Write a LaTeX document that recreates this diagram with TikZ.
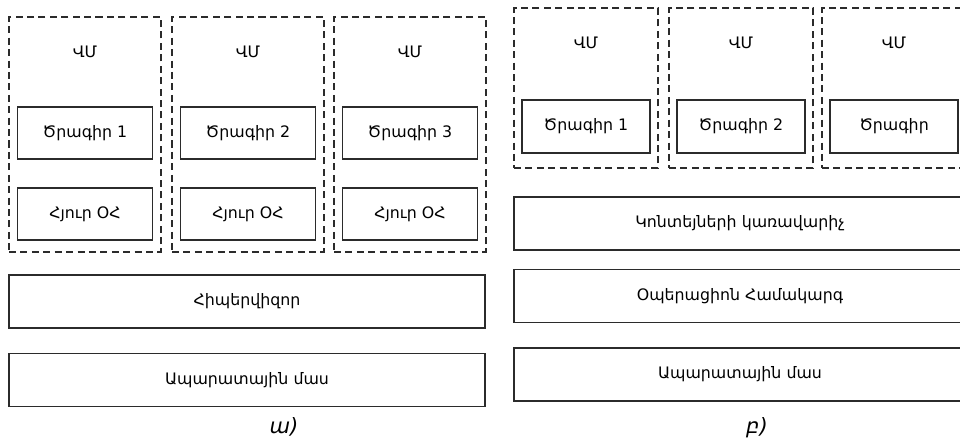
\documentclass[tikz,border=0pt]{standalone}
\usepackage{fontspec}
\setmainfont{DejaVu Sans}
\usetikzlibrary{positioning}
\definecolor{ln-dark}{HTML}{2B2B2B}
\tikzset{
  vmbox/.style={draw=ln-dark, line width=1pt, dash pattern=on 4pt off 2.5pt, inner sep=0pt},
  appbox/.style={draw=ln-dark, line width=1pt, inner sep=0pt, font=\small},
  layerbox/.style={draw=ln-dark, line width=1pt, inner sep=0pt, font=\small},
  captext/.style={font=\large\itshape}
}

\begin{document}
\begin{tikzpicture}[x=0.02cm,y=-0.02cm]
\clip (0,0) rectangle (960,445);
% ա) hypervisor stack
\foreach \i/\cx/\txt in {1/85/Ծրագիր 1, 2/248/Ծրագիր 2, 3/410/Ծրագիր 3} {
  \node[vmbox, minimum width=3.04cm, minimum height=4.7cm] (vmA\i) at (\cx,134.5) {};
  \node[font=\small] (vmlabA\i) at (\cx,52) {ՎՄ};
  \node[appbox, minimum width=2.7cm, minimum height=1.04cm] (progA\i) at (\cx,133) {\txt};
  \node[appbox, minimum width=2.7cm, minimum height=1.04cm] (osA\i) at (\cx,214) {Հյուր ՕՀ};
}
\node[layerbox, minimum width=9.52cm, minimum height=1.06cm] (hyper) at (247,301.5) {Հիպերվիզոր};
\node[layerbox, minimum width=9.52cm, minimum height=1.06cm] (hwA) at (247,380) {Ապարատային մաս};
\node[captext] (capA) at (284,427) {ա)};
% բ) container stack
\foreach \i/\cx/\txt in {1/586/Ծրագիր 1, 2/741/Ծրագիր 2, 3/894/Ծրագիր} {
  \node[vmbox, minimum width=2.88cm, minimum height=3.2cm] (vmB\i) at (\cx,88) {};
  \node[font=\small] (vmlabB\i) at (\cx,43) {ՎՄ};
  \node[appbox, minimum width=2.56cm, minimum height=1.06cm] (progB\i) at (\cx,126.5) {\txt};
}
\node[layerbox, minimum width=9.04cm, minimum height=1.06cm] (ctrmgr) at (740,223.5) {Կոնտեյների կառավարիչ};
\node[layerbox, minimum width=9.04cm, minimum height=1.06cm] (hostos) at (740,296) {Օպերացիոն Համակարգ};
\node[layerbox, minimum width=9.04cm, minimum height=1.06cm] (hwB) at (740,374.5) {Ապարատային մաս};
\node[captext] (capB) at (757,428) {բ)};
\end{tikzpicture}
\end{document}
